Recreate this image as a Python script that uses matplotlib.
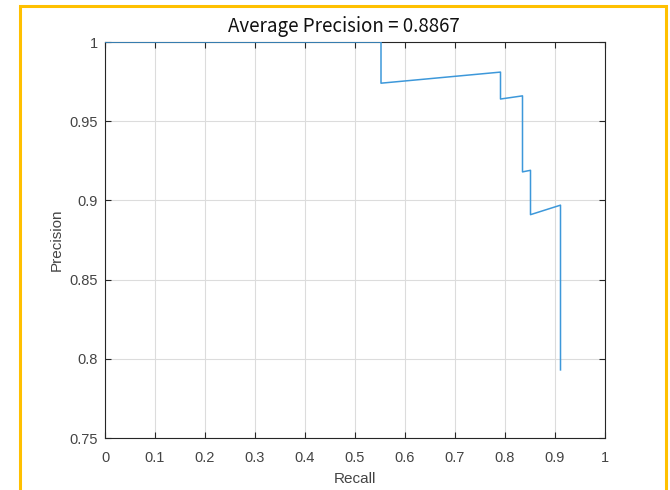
import matplotlib.pyplot as plt
from matplotlib.patches import Rectangle

# krzywa precision-recall
recall = [0.0, 0.552, 0.552, 0.791, 0.791, 0.835, 0.835, 0.851, 0.851, 0.911, 0.911]
precision = [1.0, 1.0, 0.974, 0.981, 0.964, 0.966, 0.918, 0.919, 0.891, 0.897, 0.793]
ap_value = 0.8867

x_ticks = [0, 0.1, 0.2, 0.3, 0.4, 0.5, 0.6, 0.7, 0.8, 0.9, 1]
x_tick_labels = ["0", "0.1", "0.2", "0.3", "0.4", "0.5", "0.6", "0.7", "0.8", "0.9", "1"]
y_ticks = [0.75, 0.8, 0.85, 0.9, 0.95, 1]
y_tick_labels = ["0.75", "0.8", "0.85", "0.9", "0.95", "1"]

plt.rcParams['font.family'] = ['Liberation Sans', 'DejaVu Sans']

fig = plt.figure(figsize=(6.7, 4.9), dpi=100)
ax = fig.add_axes([105 / 670, 1 - 438 / 490, 500 / 670, 396 / 490])

ax.plot(recall, precision, color='#3d98da', linewidth=1.1, zorder=3)

ax.set_xlim(0, 1)
ax.set_ylim(0.75, 1)
ax.set_xticks(x_ticks)
ax.set_xticklabels(x_tick_labels)
ax.set_yticks(y_ticks)
ax.set_yticklabels(y_tick_labels)

dark = '#262626'
label_col = '#444444'
ax.tick_params(direction='in', length=4, width=0.8, colors=dark, labelcolor=label_col,
               labelsize=10.5, top=True, right=True)
ax.tick_params(axis='x', pad=9)
ax.tick_params(axis='y', pad=5)
for s in ax.spines.values():
    s.set_color(dark)
    s.set_linewidth(0.8)
ax.grid(True, color='#dcdcdc', linewidth=0.8)
ax.set_axisbelow(True)

ax.set_title(f"Average Precision = {ap_value}", fontsize=13.5, color='#111111',
             family=['Noto Sans CJK KR', 'DejaVu Sans'], pad=7, x=0.478)
ax.set_xlabel("Recall", fontsize=11, color=label_col, labelpad=5.5)
ax.set_ylabel("Precision", fontsize=11, color=label_col, labelpad=4)

# żółta ramka wokół całej figury
fig.patches.append(Rectangle((20 / 670, -0.05), 646 / 670, 1.05 - 6 / 490,
                             transform=fig.transFigure, fill=False,
                             edgecolor='#FFC000', linewidth=2.2))

fig.savefig("out.png", dpi=100)
